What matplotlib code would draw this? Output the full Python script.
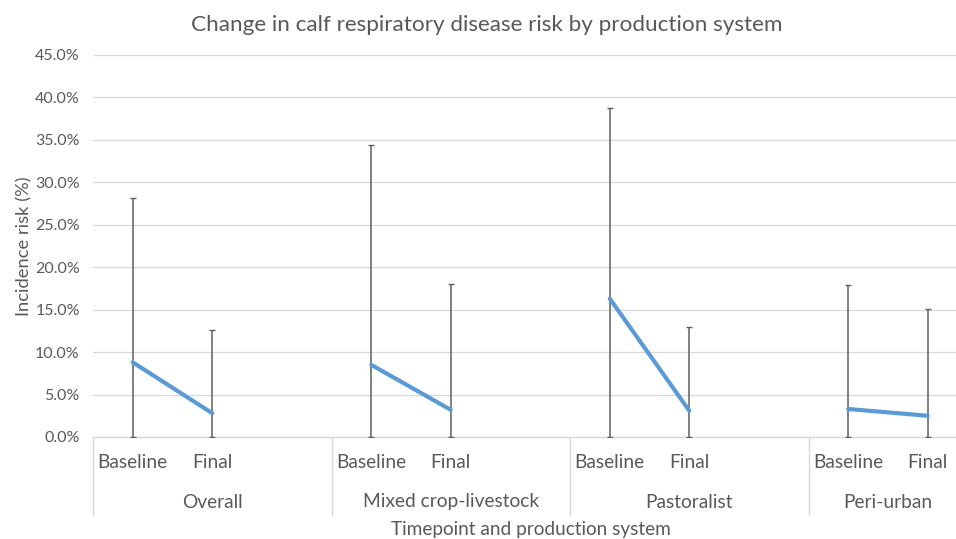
import matplotlib
matplotlib.use("Agg")
import matplotlib.pyplot as plt
import matplotlib.transforms as mtransforms
import numpy as np

plt.rcParams['font.family'] = ['Lato', 'DejaVu Sans']

groups = ["Overall", "Mixed crop-livestock", "Pastoralist", "Peri-urban"]
timepoints = ["Baseline", "Final"]
risk_baseline = [8.8, 8.5, 16.3, 3.3]
risk_final = [2.8, 3.2, 3.1, 2.5]
upper_baseline = [28.1, 34.4, 38.7, 17.9]
upper_final = [12.6, 18.0, 12.9, 15.1]
lower_baseline = [0.0, 0.0, 0.0, 0.0]
lower_final = [0.0, 0.0, 0.0, 0.0]
y_ticks = [0, 5, 10, 15, 20, 25, 30, 35, 40, 45]

TXT = "#595959"
GRID = "#d9d9d9"
LINE = "#5b9bd5"
ERR = "#5f5f5f"

W, H = 956, 539
fig = plt.figure(figsize=(W / 100, H / 100), dpi=100)
n_cat = 3 * len(groups) - 1
left_px, right_px = 93, 93 + n_cat * 79.5
top_px, bot_px = 55, 437
ax = fig.add_axes([left_px / W, (H - bot_px) / H, (right_px - left_px) / W, (bot_px - top_px) / H])

ax.set_xlim(-0.5, n_cat - 0.5)
ax.set_ylim(0, 45)

xb = [3 * i for i in range(len(groups))]
xf = [3 * i + 1 for i in range(len(groups))]

# error bars
for xs, vals, lo, up in [(xb, risk_baseline, lower_baseline, upper_baseline),
                         (xf, risk_final, lower_final, upper_final)]:
    vals = np.array(vals); lo = np.array(lo); up = np.array(up)
    ax.errorbar(xs, vals, yerr=[vals - lo, up - vals], fmt='none', ecolor=ERR,
                elinewidth=1.1, capsize=2.0, capthick=1.0, zorder=3)

for i in range(len(groups)):
    ax.plot([xb[i], xf[i]], [risk_baseline[i], risk_final[i]], color=LINE,
            lw=3.0, solid_capstyle='round', zorder=4)

ax.set_yticks(y_ticks)
ax.set_yticklabels([f"{v:.1f}%" for v in y_ticks], color=TXT, fontsize=11.5)
ax.tick_params(axis='y', length=0, pad=9.5)
ax.grid(axis='y', color=GRID, lw=0.9)
ax.set_axisbelow(True)
for s in ['left', 'right', 'top']:
    ax.spines[s].set_visible(False)
ax.spines['bottom'].set_color(GRID)
ax.spines['bottom'].set_linewidth(1.0)

xt = []
xl = []
for i in range(len(groups)):
    xt += [xb[i], xf[i]]
    xl += timepoints
ax.set_xticks(xt)
ax.set_xticklabels(xl, color=TXT, fontsize=13.8)
ax.tick_params(axis='x', length=0, pad=12.5)

trans = mtransforms.blended_transform_factory(ax.transData, ax.transAxes)
ah = bot_px - top_px
for i, g in enumerate(groups):
    start = 3 * i - 0.5
    end = min(3 * i + 2.5, n_cat - 0.5)
    ax.plot([start, start], [0, -78 / ah], color=GRID, lw=1.0, transform=trans, clip_on=False)
    ax.text((start + end) / 2, -65 / ah, g, transform=trans, ha='center', va='center',
            color=TXT, fontsize=13.8)

fig.text(531 / W, 1 - 529 / H, "Timepoint and production system", ha='center', va='center',
         color=TXT, fontsize=13.7)
fig.text(24 / W, 1 - 246 / H, "Incidence risk (%)", ha='center', va='center', rotation=90,
         color=TXT, fontsize=13.2)
fig.text(487 / W, 1 - 25 / H, "Change in calf respiratory disease risk by production system",
         ha='center', va='center', color=TXT, fontsize=16.2)

fig.savefig("out.png", dpi=100, facecolor='white')
